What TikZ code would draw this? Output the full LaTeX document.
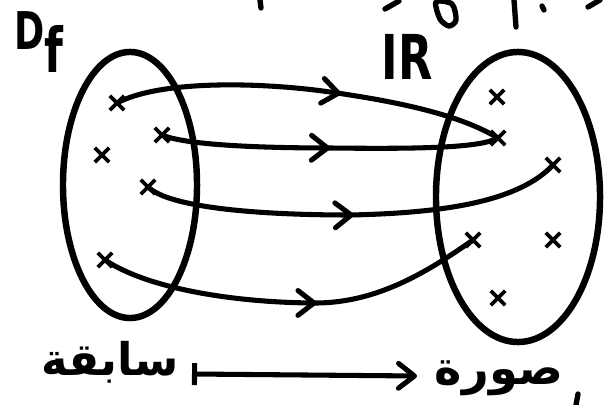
\documentclass[tikz,border=0pt]{standalone}
\usepackage{fontspec}
\usepackage{graphicx}
\setmainfont{DejaVu Sans}
\newfontfamily\arabicfont[Script=Arabic]{DejaVu Sans}
\TeXXeTstate=1
\usetikzlibrary{shapes.geometric,shapes.misc,arrows.meta,decorations.markings}
\tikzset{
  ink/.style={line width=3.6pt, line cap=round, line join=round},
  frag/.style={line width=3.8pt, line cap=round, line join=round},
  setline/.style={draw, ellipse, line width=4.6pt, inner sep=0pt},
  pt/.style={cross out, draw, line width=2.6pt, minimum size=0.27cm, inner sep=0pt},
  barb/.tip={Straight Barb[length=0.4cm, width=0.62cm, line cap=round, line join=round]},
  conn/.style={ink, postaction={decorate},
    decoration={markings, mark=at position #1 with {\arrow{barb}}}},
  conn/.default=0.5,
}
\begin{document}
\begin{tikzpicture}[x=0.025cm, y=-0.025cm]
\useasboundingbox (0,0) rectangle (611,405);
% sets
\node[setline, minimum width=3.35cm, minimum height=6.65cm] (dom) at (130,185) {};
\node[setline, minimum width=4.1cm, minimum height=7.25cm] (cod) at (518,197) {};
% labels
\node[anchor=base west, inner sep=0pt, font=\fontsize{37}{40}\selectfont\bfseries] (df) at (14,50)
  {\scalebox{0.7}[1]{D\raisebox{-16pt}{\fontsize{44}{44}\selectfont f}}};
\node[anchor=base, inner sep=0pt, font=\fontsize{44}{48}\selectfont\bfseries] (rr) at (407,80)
  {\scalebox{0.72}[1]{IR}};
% points
\node[pt] (a1) at (117,103) {};
\node[pt] (a2) at (162,135) {};
\node[pt] (a3) at (102,155) {};
\node[pt] (a4) at (148,187) {};
\node[pt] (a5) at (105,260) {};
\node[pt] (b1) at (497,97) {};
\node[pt] (b2) at (498,138) {};
\node[pt] (b3) at (553,165) {};
\node[pt] (b4) at (473,240) {};
\node[pt] (b5) at (553,240) {};
\node[pt] (b6) at (498,298) {};
% mappings
\draw[conn=0.58] (a1.center) .. controls (160,80) and (260,82) .. (330,92)
  .. controls (400,102) and (460,115) .. (b2.center);
\draw[conn=0.5] (a2.center) .. controls (185,145) and (260,148) .. (330,148)
  .. controls (420,149) and (480,148) .. (b2.center);
\draw[conn=0.5] (a4.center) .. controls (170,208) and (260,215) .. (350,215)
  .. controls (450,213) and (520,200) .. (b3.center);
\draw[conn=0.56] (a5.center) .. controls (150,290) and (240,303) .. (318,303)
  .. controls (380,302) and (430,270) .. (b4.center);
% bottom legend
\node[inner sep=0pt, font=\fontsize{32}{36}\selectfont\bfseries] (pre) at (110,362)
  {\arabicfont\beginR سابقة\endR};
\node[inner sep=0pt, font=\fontsize{33}{37}\selectfont\bfseries] (img) at (499,378)
  {\arabicfont\beginR صورة\endR};
\coordinate (t0) at (192,374);
\coordinate (t1) at (417,376);
\draw[ink, {Bar[width=0.55cm]}-barb] (t0) -- (t1);
% cut-off fragments at the edges
\draw[frag] (260,0) -- (261,8);
\draw[frag] (385,9) -- (399,1);
\draw[frag] plot[smooth cycle] coordinates {(436,2) (440,19) (449,26) (456,20) (452,4)};
\draw[frag] (514,0) -- (516,27);
\draw[frag] (542,6) -- (544,10);
\draw[frag] (588,7) -- (600,0);
\draw[frag] (578,394) -- (576,405);
\end{tikzpicture}
\end{document}
